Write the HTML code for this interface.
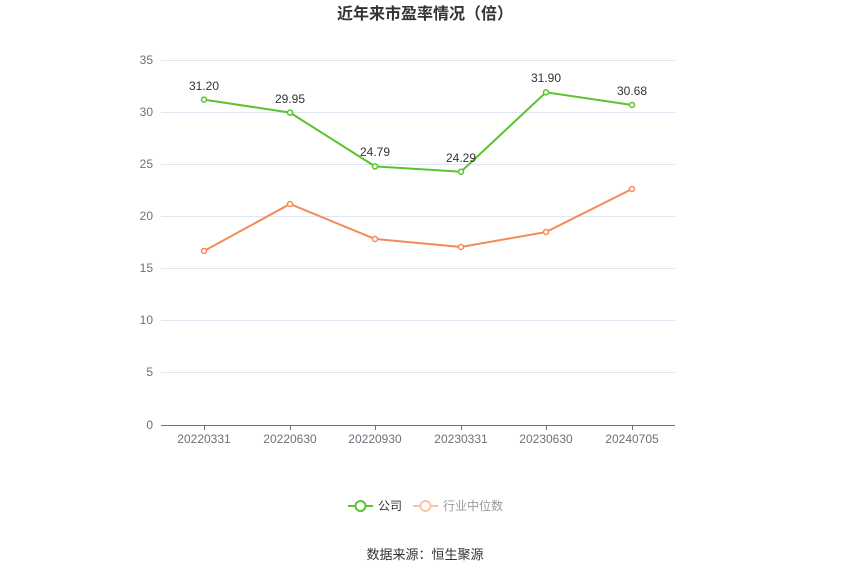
<!DOCTYPE html>
<html><head><meta charset="utf-8"><style>
body{margin:0;background:#fff;}
svg text{font-family:"Liberation Sans","Noto Sans CJK SC",sans-serif;}
</style></head><body>
<svg width="850" height="575" viewBox="0 0 850 575" xmlns="http://www.w3.org/2000/svg">
<text x="425" y="19" text-anchor="middle" font-size="16" font-weight="bold" fill="#333">近年来市盈率情况（倍）</text>
<g stroke="#e0e6f1" stroke-width="1">
<line x1="161" x2="675" y1="60.5" y2="60.5"/><line x1="161" x2="675" y1="112.5" y2="112.5"/>
<line x1="161" x2="675" y1="164.5" y2="164.5"/><line x1="161" x2="675" y1="216.5" y2="216.5"/>
<line x1="161" x2="675" y1="268.5" y2="268.5"/><line x1="161" x2="675" y1="320.5" y2="320.5"/>
<line x1="161" x2="675" y1="372.5" y2="372.5"/>
</g>
<line x1="161" x2="675" y1="425.5" y2="425.5" stroke="#6e7079"/>
<g stroke="#6e7079"><line x1="204.5" x2="204.5" y1="425" y2="430"/><line x1="290.5" x2="290.5" y1="425" y2="430"/><line x1="375.5" x2="375.5" y1="425" y2="430"/><line x1="461.5" x2="461.5" y1="425" y2="430"/><line x1="546.5" x2="546.5" y1="425" y2="430"/><line x1="632.5" x2="632.5" y1="425" y2="430"/></g>
<g font-size="12" fill="#6e7079" text-anchor="end">
<text x="153" y="64">35</text><text x="153" y="116">30</text><text x="153" y="168">25</text><text x="153" y="220">20</text><text x="153" y="272">15</text><text x="153" y="324">10</text><text x="153" y="376">5</text><text x="153" y="429">0</text>
</g>
<g font-size="12" fill="#6e7079" text-anchor="middle">
<text x="204" y="443">20220331</text><text x="290" y="443">20220630</text><text x="375" y="443">20220930</text><text x="461" y="443">20230331</text><text x="546" y="443">20230630</text><text x="632" y="443">20240705</text>
</g>
<polyline fill="none" stroke="#f58a58" stroke-width="2" points="204,251 290,204 375,239 461,247 546,232 632,189"/>
<g fill="#fff" stroke="#f58a58" stroke-width="1.5">
<circle cx="204" cy="251" r="2.5"/><circle cx="290" cy="204" r="2.5"/><circle cx="375" cy="239" r="2.5"/><circle cx="461" cy="247" r="2.5"/><circle cx="546" cy="232" r="2.5"/><circle cx="632" cy="189" r="2.5"/>
</g>
<polyline fill="none" stroke="#5ac32d" stroke-width="2" points="204,99.6 290,112.6 375,166.4 461,171.7 546,92.3 632,105"/>
<g fill="#fff" stroke="#5ac32d" stroke-width="1.5">
<circle cx="204" cy="99.6" r="2.5"/><circle cx="290" cy="112.6" r="2.5"/><circle cx="375" cy="166.4" r="2.5"/><circle cx="461" cy="171.7" r="2.5"/><circle cx="546" cy="92.3" r="2.5"/><circle cx="632" cy="105" r="2.5"/>
</g>
<g font-size="12" fill="#333" text-anchor="middle">
<text x="204" y="90">31.20</text><text x="290" y="103">29.95</text><text x="375" y="156">24.79</text><text x="461" y="162">24.29</text><text x="546" y="82">31.90</text><text x="632" y="95">30.68</text>
</g>
<line x1="348" x2="373" y1="506" y2="506" stroke="#5ac32d" stroke-width="2"/>
<circle cx="360.5" cy="506" r="5" fill="#fff" stroke="#5ac32d" stroke-width="2"/>
<text x="378" y="510" font-size="12" fill="#333">公司</text>
<line x1="413" x2="438" y1="506" y2="506" stroke="#fbc2a8" stroke-width="2"/>
<circle cx="425.5" cy="506" r="5" fill="#fff" stroke="#fbc2a8" stroke-width="2"/>
<text x="443" y="510" font-size="12" fill="#999">行业中位数</text>
<text x="425" y="559" text-anchor="middle" font-size="13" fill="#333">数据来源：恒生聚源</text>
</svg>
</body></html>
